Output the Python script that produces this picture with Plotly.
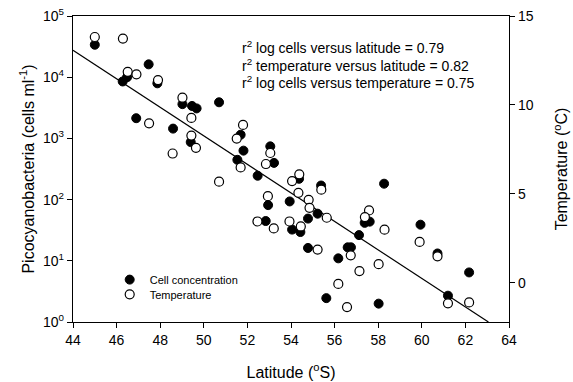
import plotly.graph_objects as go

# Cell concentration (cells ml-1) vs latitude (deg S)
cell_lat = [45.0, 46.28, 46.48, 47.47, 47.87, 46.9, 48.59, 49.02, 49.46, 49.67,
            50.70, 49.40, 51.69, 51.82, 51.54, 52.47, 53.05, 53.22, 52.95, 52.84,
            53.94, 54.05, 54.43, 54.37, 54.78, 54.78, 55.22, 56.60, 56.75, 56.17,
            55.62, 57.12, 58.27, 57.38, 57.61, 59.94, 60.72, 58.02, 62.17, 61.20,
            55.38]
cell_log = [4.53, 3.93, 4.00, 4.21, 3.90, 3.33, 3.16, 3.56, 3.53, 3.49,
            3.59, 2.94, 3.06, 2.80, 2.65, 2.39, 2.87, 2.60, 1.91, 1.65,
            1.97, 1.51, 1.47, 2.34, 1.69, 1.21, 1.77, 1.22, 1.22, 1.04,
            0.39, 1.42, 2.26, 1.62, 1.64, 1.59, 1.12, 0.30, 0.81, 0.43,
            2.23]
cell_conc = [10 ** v for v in cell_log]

# Temperature (deg C) vs latitude
temp_lat = [45.0, 46.29, 46.51, 46.91, 47.9, 47.49, 48.57, 49.02, 49.43, 49.43,
            49.64, 50.70, 51.51, 51.80, 51.69, 52.85, 53.05, 54.38, 54.05, 55.39,
            54.34, 52.94, 54.81, 54.85, 55.64, 53.93, 54.45, 53.21, 55.22, 56.74,
            57.14, 56.17, 56.57, 52.46, 57.58, 57.39, 58.29, 59.90, 60.72, 58.02,
            61.20, 62.17]
temp_val = [13.82, 13.73, 11.86, 11.72, 11.40, 8.97, 7.27, 10.41, 9.27, 8.28,
            7.59, 5.69, 8.11, 8.88, 6.49, 6.68, 7.30, 6.10, 5.72, 5.24,
            5.06, 4.87, 4.67, 4.22, 3.66, 3.45, 3.17, 3.06, 1.87, 1.55,
            0.66, -0.06, -1.36, 3.45, 4.07, 3.70, 2.99, 2.30, 1.49, 1.05,
            -1.15, -1.10]

# Regression of log cells on latitude
fit_intercept_at_44 = 4.44
fit_slope = -0.233
fit_lat = [44.0, 44.0 - fit_intercept_at_44 / fit_slope]
fit_cells = [10 ** (fit_intercept_at_44 + fit_slope * (x - 44.0)) for x in fit_lat]

x_ticks = [44, 46, 48, 50, 52, 54, 56, 58, 60, 62, 64]
y_tickvals = [1, 10, 100, 1000, 10000, 100000]
y_ticktext = ["10<sup>0</sup>", "10<sup>1</sup>", "10<sup>2</sup>",
              "10<sup>3</sup>", "10<sup>4</sup>", "10<sup>5</sup>"]
t_ticks = [0, 5, 10, 15]

r2_lines = ["r<sup>2</sup> log cells versus latitude = 0.79",
            "r<sup>2</sup> temperature versus latitude = 0.82",
            "r<sup>2</sup> log cells versus temperature = 0.75"]

FONT = "Liberation Sans, Arial, Helvetica, sans-serif"

fig = go.Figure()
fig.add_trace(go.Scatter(x=fit_lat, y=fit_cells, mode="lines",
                         line=dict(color="black", width=1.2),
                         showlegend=False, hoverinfo="skip"))
fig.add_trace(go.Scatter(x=cell_lat, y=cell_conc, mode="markers",
                         name="Cell concentration", legend="legend",
                         marker=dict(symbol="circle", size=9, color="black",
                                     line=dict(color="black", width=1))))
fig.add_trace(go.Scatter(x=temp_lat, y=temp_val, mode="markers",
                         name="Temperature", yaxis="y2", legend="legend2",
                         marker=dict(symbol="circle", size=9, color="white",
                                     line=dict(color="black", width=1.2))))

for i, t in enumerate(r2_lines):
    fig.add_annotation(text=t, xref="paper", yref="paper",
                       x=(240 - 73.3) / 436, y=1 - (47 + 17.5 * i - 15.7) / 306.6,
                       xanchor="left", yanchor="middle", showarrow=False,
                       font=dict(size=14, color="black", family=FONT))

axis_common = dict(showline=True, linecolor="black", linewidth=1.3,
                   ticks="outside", ticklen=5, tickcolor="black", tickwidth=1.2,
                   showgrid=False, zeroline=False, automargin=False,
                   tickfont=dict(size=14, color="black", family=FONT))

legend_common = dict(xanchor="left", yanchor="top", bgcolor="rgba(0,0,0,0)",
                     font=dict(size=11, color="black", family=FONT))

fig.update_layout(
    width=573, height=382,
    margin=dict(l=73, r=64, t=16, b=60),
    paper_bgcolor="white", plot_bgcolor="white",
    font=dict(family=FONT, color="black"),
    xaxis=dict(range=[44, 64], tickvals=x_ticks, mirror=True,
               title=dict(text="Latitude (<sup>o</sup>S)", font=dict(size=16), standoff=19),
               **axis_common),
    yaxis=dict(type="log", range=[0, 5], tickvals=y_tickvals, ticktext=y_ticktext,
               title=dict(text="Picocyanobacteria (cells ml<sup>-1</sup>)", font=dict(size=16),
                          standoff=4),
               **axis_common),
    yaxis2=dict(overlaying="y", side="right", range=[-2.2, 15], tickvals=t_ticks,
                title=dict(text="Temperature (<sup>o</sup>C)", font=dict(size=16), standoff=23),
                **axis_common),
    legend=dict(x=(110 - 73.3) / 436, y=1 - (265.3 - 15.7) / 306.6, **legend_common),
    legend2=dict(x=(110 - 73.3) / 436, y=1 - (280 - 15.7) / 306.6, **legend_common),
)

fig.write_html("out.html", config={"displayModeBar": False},
               post_script="document.body.style.margin='0';document.body.style.overflow='hidden';")
